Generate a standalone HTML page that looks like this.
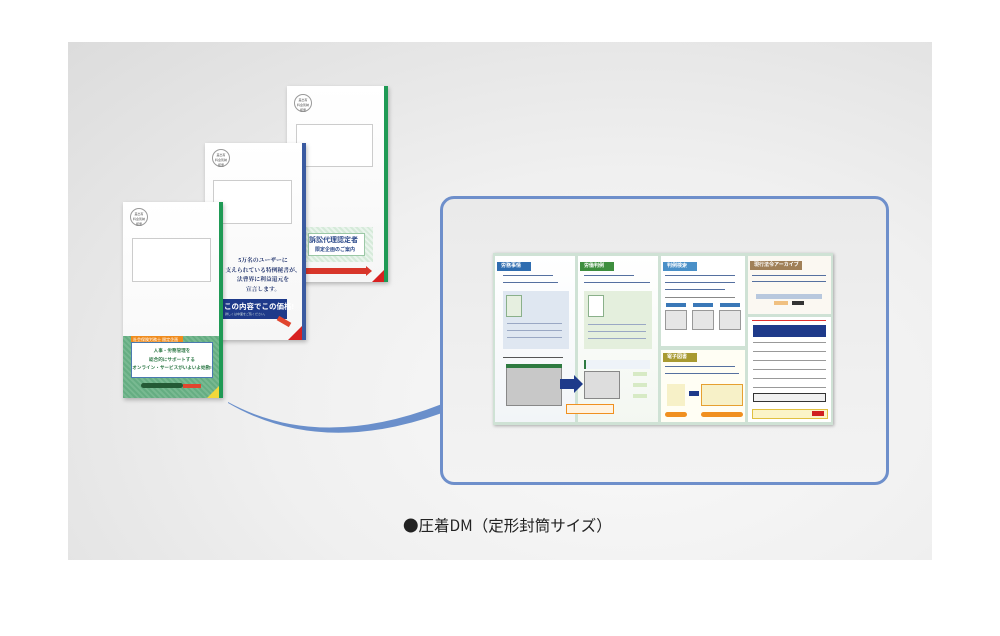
<!DOCTYPE html>
<html><head><meta charset="utf-8"><style>
*{margin:0;padding:0;box-sizing:border-box}
body{width:1000px;height:636px;background:#fff;position:relative;overflow:hidden;font-family:"Liberation Sans","Noto Sans CJK JP",sans-serif}
.a{position:absolute}
.bg{left:68px;top:42px;width:864px;height:518px;background:radial-gradient(ellipse at 65% 70%,#f9f9f9 0%,#f0f0f0 45%,#dcdcdc 100%)}
.env{position:absolute;background:linear-gradient(180deg,#fff,#f6f6f6);box-shadow:1px 2px 4px rgba(0,0,0,.25);overflow:hidden}
.stamp{position:absolute;width:18px;height:18px;border:1px solid #999;border-radius:50%;background:#fff;font-size:3px;color:#555;text-align:center;line-height:5px;padding-top:3px}
.win{position:absolute;border:1px solid #ccc;background:#fff}
.t{position:absolute;white-space:nowrap}
.pn{position:absolute;background:#fff}
.hd{position:absolute;height:9px;color:#fff;font-size:5px;line-height:9px;padding-left:4px;font-weight:bold}
.ln{position:absolute;height:2px;background:#9aa8c4}
</style></head><body>
<div class="a bg"></div>

<!-- envelope 3 (back) -->
<div class="env" style="left:287px;top:86px;width:101px;height:196px">
  <div class="a" style="right:0;top:0;width:4px;height:196px;background:#1f9a55"></div>
  <div class="stamp" style="left:7px;top:8px">差出有<br>料金別納<br>郵便</div>
  <div class="win" style="left:9px;top:38px;width:77px;height:43px"></div>
  <div class="a" style="left:18px;top:141px;width:68px;height:35px;background:repeating-linear-gradient(45deg,#d5ead9 0 2px,#e9f4ec 2px 4px)"></div>
  <div class="a" style="left:21px;top:147px;width:57px;height:23px;background:#fff;border:1px solid #9bc8a6"></div>
  <div class="t" style="left:22px;top:149px;font-size:7px;font-weight:bold;color:#2c4a8a">訴訟代理認定者</div>
  <div class="t" style="left:28px;top:160px;font-size:5px;font-weight:bold;color:#2c4a8a">限定企画のご案内</div>
  <div class="a" style="left:18px;top:182px;width:62px;height:6px;background:#d8362a"></div>
  <div class="a" style="left:79px;top:180px;border-left:6px solid #d8362a;border-top:5px solid transparent;border-bottom:5px solid transparent"></div>
  <div class="a" style="right:4px;bottom:0;width:0;height:0;border-left:12px solid transparent;border-bottom:12px solid #d82020"></div>
</div>

<!-- envelope 2 -->
<div class="env" style="left:205px;top:143px;width:101px;height:197px">
  <div class="a" style="right:0;top:0;width:4px;height:197px;background:#3a5aa0"></div>
  <div class="stamp" style="left:7px;top:6px">差出有<br>料金別納<br>郵便</div>
  <div class="win" style="left:8px;top:37px;width:79px;height:44px"></div>
  <div class="t" style="left:18px;width:80px;text-align:center;top:114px;font-family:'Liberation Serif','Noto Serif CJK SC',serif;font-size:5.8px;line-height:9.5px;color:#1c2f6a;font-weight:bold">5万名のユーザーに<br>支えられている特例秘書が、<br>法曹界に利益還元を<br>宣言します。</div>
  <div class="a" style="left:18px;top:156px;width:64px;height:20px;background:#1e3a8a"></div>
  <div class="t" style="left:19px;top:158px;font-size:7.5px;font-weight:bold;color:#fff">この内容でこの価格!</div>
  <div class="t" style="left:20px;top:169px;font-size:3px;color:#cdd">詳しくは中面をご覧ください。</div>
  <div class="a" style="left:72px;top:176px;width:14px;height:5px;background:#e0452e;transform:rotate(30deg)"></div>
  <div class="a" style="right:4px;bottom:0;width:0;height:0;border-left:14px solid transparent;border-bottom:14px solid #d82020"></div>
</div>

<!-- envelope 1 (front) -->
<div class="env" style="left:123px;top:202px;width:100px;height:196px">
  <div class="a" style="right:0;top:0;width:4px;height:196px;background:#1f9a55"></div>
  <div class="stamp" style="left:7px;top:6px">差出有<br>料金別納<br>郵便</div>
  <div class="win" style="left:9px;top:36px;width:79px;height:44px"></div>
  <div class="a" style="left:0;top:134px;width:96px;height:62px;background:repeating-linear-gradient(45deg,#65ad82 0 2px,#78b991 2px 4px)"></div>
  <div class="a" style="left:8px;top:134px;width:52px;height:8px;background:#f08c1e"></div>
  <div class="t" style="left:10px;top:135px;font-size:4px;color:#fff">社会保険労務士 限定企画</div>
  <div class="a" style="left:8px;top:140px;width:82px;height:36px;background:#fff;border:1px solid #4a7ab0"></div>
  <div class="t" style="left:8px;width:82px;text-align:center;top:145px;font-size:4.6px;line-height:8.5px;font-weight:bold;color:#2f7a48">人事・労務管理を<br>総合的にサポートする<br>オンライン・サービスがいよいよ始動!</div>
  <div class="a" style="left:18px;top:181px;width:42px;height:5px;background:#245a35;border-radius:3px"></div>
  <div class="a" style="left:60px;top:182px;width:18px;height:4px;background:#e0452e"></div>
  <div class="a" style="right:4px;bottom:0;width:0;height:0;border-left:12px solid transparent;border-bottom:12px solid #f2d83a"></div>
</div>

<!-- connector curve -->
<svg class="a" style="left:0;top:0" width="1000" height="636">
  <path d="M228,402 Q320,452 442,404 L442,413 Q320,457 228,403 Z" fill="#6a8fcb"/>
</svg>

<!-- blue box -->
<div class="a" style="left:440px;top:196px;width:449px;height:289px;border:3px solid #6e8fcb;border-radius:14px;background:linear-gradient(180deg,#eaeaea,#f3f3f3)"></div>

<!-- brochure -->
<div class="a" style="left:493px;top:253px;width:340px;height:172px;background:#cfe2d5;box-shadow:1px 1px 3px rgba(0,0,0,.3)"></div>
<div class="pn" style="left:495px;top:256px;width:80px;height:166px;background:linear-gradient(180deg,#fff,#f2f5f8)">
  <div class="hd" style="left:2px;top:6px;width:34px;background:#2f6db0">労務事情</div>
  <div class="ln" style="left:8px;top:19px;width:50px;height:1px;background:#5570a0"></div>
  <div class="ln" style="left:8px;top:26px;width:55px;height:1px;background:#5570a0"></div>
  <div class="a" style="left:8px;top:35px;width:66px;height:58px;background:#dfe7f1"></div>
  <div class="a" style="left:11px;top:39px;width:16px;height:22px;background:#e6efe0;border:1px solid #8ab08a"></div>
  <div class="ln" style="left:12px;top:67px;width:55px;height:1px"></div>
  <div class="ln" style="left:12px;top:74px;width:55px;height:1px"></div>
  <div class="ln" style="left:12px;top:81px;width:55px;height:1px"></div>
  <div class="ln" style="left:8px;top:101px;width:60px;height:1px;background:#555"></div>
  <div class="a" style="left:11px;top:108px;width:56px;height:42px;background:#c8c8c8;border:1px solid #888"></div>
  <div class="a" style="left:11px;top:108px;width:56px;height:4px;background:#2e7a40"></div>
</div>
<div class="pn" style="left:578px;top:256px;width:80px;height:166px;background:linear-gradient(180deg,#fff,#f3f7f1)">
  <div class="hd" style="left:2px;top:6px;width:34px;background:#3e8e3e">労働判例</div>
  <div class="ln" style="left:6px;top:19px;width:50px;height:1px;background:#5570a0"></div>
  <div class="ln" style="left:6px;top:26px;width:66px;height:1px;background:#5570a0"></div>
  <div class="a" style="left:6px;top:35px;width:68px;height:58px;background:#e4efdd"></div>
  <div class="a" style="left:10px;top:39px;width:16px;height:22px;background:#fff;border:1px solid #8ab08a"></div>
  <div class="ln" style="left:10px;top:68px;width:58px;height:1px"></div>
  <div class="ln" style="left:10px;top:75px;width:58px;height:1px"></div>
  <div class="ln" style="left:10px;top:82px;width:58px;height:1px"></div>
  <div class="a" style="left:6px;top:104px;width:66px;height:9px;background:#eef3f8;border-left:2px solid #2e7a40"></div>
  <div class="a" style="left:6px;top:115px;width:36px;height:28px;background:#ddd;border:1px solid #888"></div>
  <div class="a" style="left:55px;top:116px;width:14px;height:4px;background:#d7eac5"></div>
  <div class="a" style="left:55px;top:127px;width:14px;height:4px;background:#d7eac5"></div>
  <div class="a" style="left:55px;top:138px;width:14px;height:4px;background:#d7eac5"></div>
</div>
<div class="a" style="left:566px;top:404px;width:48px;height:10px;background:#fff3e0;border:1px solid #f09020"></div>
<div class="a" style="left:560px;top:379px;width:14px;height:10px;background:#1e3a8a"></div>
<div class="a" style="left:574px;top:375px;border-left:9px solid #1e3a8a;border-top:9px solid transparent;border-bottom:9px solid transparent"></div>
<div class="pn" style="left:661px;top:256px;width:84px;height:90px">
  <div class="hd" style="left:2px;top:6px;width:34px;background:#4a90c8">判例検索</div>
  <div class="ln" style="left:4px;top:19px;width:70px;height:1px;background:#5570a0"></div>
  <div class="ln" style="left:4px;top:26px;width:70px;height:1px;background:#5570a0"></div>
  <div class="ln" style="left:4px;top:33px;width:60px;height:1px;background:#5570a0"></div>
  <div class="ln" style="left:4px;top:41px;width:70px;height:1px;background:#888"></div>
  <div class="a" style="left:5px;top:47px;width:20px;height:4px;background:#3a78b8"></div>
  <div class="a" style="left:32px;top:47px;width:20px;height:4px;background:#3a78b8"></div>
  <div class="a" style="left:59px;top:47px;width:20px;height:4px;background:#3a78b8"></div>
  <div class="a" style="left:4px;top:54px;width:22px;height:20px;background:#e6e6e6;border:1px solid #999"></div>
  <div class="a" style="left:31px;top:54px;width:22px;height:20px;background:#e6e6e6;border:1px solid #999"></div>
  <div class="a" style="left:58px;top:54px;width:22px;height:20px;background:#e6e6e6;border:1px solid #999"></div>
</div>
<div class="pn" style="left:661px;top:350px;width:84px;height:72px;background:#fffef4">
  <div class="hd" style="left:2px;top:3px;width:34px;background:#a89a30">電子図書</div>
  <div class="ln" style="left:4px;top:16px;width:70px;height:1px;background:#5570a0"></div>
  <div class="ln" style="left:4px;top:23px;width:74px;height:1px;background:#5570a0"></div>
  <div class="a" style="left:6px;top:34px;width:18px;height:22px;background:#f7f1c8"></div>
  <div class="a" style="left:28px;top:41px;width:10px;height:5px;background:#1e3a8a"></div>
  <div class="a" style="left:40px;top:34px;width:42px;height:22px;background:#f7f1c8;border:1px solid #e6a030"></div>
  <div class="a" style="left:4px;top:62px;width:22px;height:5px;background:#f09020;border-radius:3px"></div>
  <div class="a" style="left:40px;top:62px;width:42px;height:5px;background:#f09020;border-radius:3px"></div>
</div>
<div class="pn" style="left:748px;top:256px;width:83px;height:58px;background:#fbf8f2">
  <div class="hd" style="left:2px;top:5px;width:52px;background:#a08058">現行法令アーカイブ</div>
  <div class="ln" style="left:4px;top:19px;width:74px;height:1px;background:#5570a0"></div>
  <div class="ln" style="left:4px;top:25px;width:74px;height:1px;background:#5570a0"></div>
  <div class="a" style="left:8px;top:38px;width:66px;height:5px;background:#b8c8de"></div>
  <div class="a" style="left:26px;top:45px;width:14px;height:4px;background:#f0c080"></div>
  <div class="a" style="left:44px;top:45px;width:12px;height:4px;background:#333"></div>
</div>
<div class="pn" style="left:748px;top:317px;width:83px;height:105px">
  <div class="ln" style="left:4px;top:3px;width:74px;height:1px;background:#e03030"></div>
  <div class="a" style="left:5px;top:8px;width:73px;height:12px;background:#1e3a8a"></div>
  <div class="ln" style="left:5px;top:25px;width:73px;height:1px;background:#999"></div>
  <div class="ln" style="left:5px;top:34px;width:73px;height:1px;background:#999"></div>
  <div class="ln" style="left:5px;top:43px;width:73px;height:1px;background:#999"></div>
  <div class="ln" style="left:5px;top:52px;width:73px;height:1px;background:#999"></div>
  <div class="ln" style="left:5px;top:61px;width:73px;height:1px;background:#999"></div>
  <div class="ln" style="left:5px;top:70px;width:73px;height:1px;background:#999"></div>
  <div class="a" style="left:5px;top:76px;width:73px;height:9px;background:#f0f0f0;border:1px solid #333"></div>
  <div class="a" style="left:4px;top:92px;width:76px;height:10px;background:#fbf4c8;border:1px solid #e0c040"></div>
  <div class="a" style="left:64px;top:94px;width:12px;height:5px;background:#d02020"></div>
</div>

<div class="t" style="left:403px;top:514px;font-family:'Noto Sans CJK JP',sans-serif;font-size:15.5px;color:#222">●圧着DM（定形封筒サイズ）</div>
</body></html>
